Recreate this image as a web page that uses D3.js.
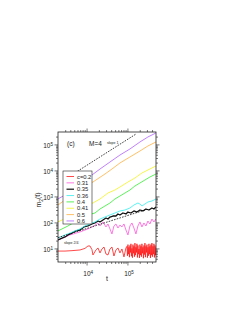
<!DOCTYPE html>
<html>
<head>
<meta charset="utf-8">
<script src="https://cdn.jsdelivr.net/npm/d3@7"></script>
<style>
  body { margin: 0; background: #fff; }
  svg { display: block; }
  text { font-family: "Liberation Sans", Arial, sans-serif; fill: #222; }
</style>
</head>
<body>
<div id="chart"></div>
<script>
// legend labels, top to bottom
const epsLabels = ['c=0.2', '0.31', '0.35', '0.36', '0.4', '0.41', '0.5', '0.6'];

// [t, m2]
const m020 = [[2000,7.9],[2970,7.9],[4400,8.2],[6900,8.7],[9140,10],[10820,12.4],[12110,12.4],[13550,9],[14340,5.6],
  [16980,8.7],[19000,10.4],[21300,6.7],[23800,9.5],[26700,11.3],[29850,6.1],[33400,5.6],[37350,9.5],[41800,11.3],
  [46750,5.1],[52350,8.7],[58600,10.4],[65600,6.7],[73400,9.5],[82200,4.7],[92000,10.4],
  [97300,12],[100100,5.2],[102900,14],[105900,6],[108900,11],[112000,4.6],[115100,13],[118500,7],[121900,15],
  [125300,5],[128900,10],[132600,4.4],[136400,14],[140300,6.5],[144200,12],[148400,4.8],[152600,16],[157000,5.5],
  [161400,11],[166100,7],[170800,15],[175700,4.5],[180700,13],[185900,6],[191200,9.5],[196600,4.3],[202300,14],
  [208000,5.5],[214000,12],[220100,4.8],[226400,15],[232800,6.5],[239500,11],[246300,4.2],[253400,13],[260600,5.8],
  [268000,16],[275700,4.6],[283700,12],[291700,7],[300000,14],[308600,4.4],[317000,11],[326400,5.2],[335800,15],
  [345400,6],[355000,12],[365300,4.3],[375700,14],[386500,5.5],[397500,16],[408800,4.8],[420500,12],[432600,6],
  [444800,15],[457600,4.5],[470600,13],[484100,5.5],[498000,11]];
const m031 = [[2000,21],[3930,33],[6900,43],[10820,56],[15180,73],[19000,95],[21300,73],[25200,104],[29850,67],
  [33400,87],[37350,56],[41800,36],[46750,73],[52350,87],[58600,61],[65600,79],[73400,67],[82200,87],[92000,51],
  [102900,33],[115100,73],[128900,95],[144200,61],[161400,36],[180700,73],[202300,104],[226400,67],[253400,95],
  [283700,73],[317000,113],[355000,87],[397500,135],[444800,104],[498000,135]];
const m035 = [[2000,21],[2506,25],[2966,27.5],[3510,33],[4400,39],[5510,47],[6900,51],[8650,67],[10820,73],
  [13550,87],[16060,95],[19000,113],[21300,104],[25200,124],[29850,148],[33400,135],[37350,161],[44200,176],
  [52350,176],[58600,211],[65600,193],[77600,230],[92000,211],[102900,251],[121900,230],[144200,275],[170800,251],
  [202300,300],[239500,275],[283700,328],[335800,300],[397500,358],[444800,328],[498000,391]];
const m036 = [[2000,25],[2966,33],[3930,39],[5210,47],[6900,56],[9140,73],[12110,87],[16060,104],[21300,135],
  [28200,161],[37350,193],[49500,230],[65600,275],[86900,300],[115100,358],[144200,467],[180700,557],[202300,510],
  [226400,427],[268000,510],[317000,609],[397500,666],[498000,795]];
const m040 = [[2000,47],[3510,73],[6170,124],[10820,193],[16060,230],[21300,328],[28200,427],[37350,557],
  [49500,795],[65600,1036],[86900,1350],[115100,1760],[152600,2514],[202300,3280],[268000,4270],[355000,5570],
  [498000,7270]];
const m041 = [[2000,104],[3140,148],[5210,251],[9140,427],[14340,557],[21300,795],[33400,1350],[49500,1760],
  [65600,2300],[102900,3580],[152600,5100],[226400,7950],[317000,10370],[498000,14800]];
const m050 = [[2000,467],[2966,730],[5210,1240],[9140,2500],[14340,3580],[28200,7270],[41800,11300],[65600,19300],
  [115100,32800],[202300,55700],[317000,86900],[498000,124000]];
const m060 = [[2000,800],[2966,1130],[3930,1610],[6900,3000],[13550,6650],[21300,11300],[37350,21000],
  [65600,39000],[115100,66600],[202300,124000],[317000,193000],[498000,275000]];

// guide lines: slope 1 and slope 2/4
const slopeOne = [[4000,6200],[161400,250000]];
const slopeHalf = [[2000,26],[300000,317]];

const xMajor = [1e4, 1e5];
const yMajor = [1e1, 1e2, 1e3, 1e4, 1e5];
const xMinor = [3e3,4e3,5e3,6e3,7e3,8e3,9e3,2e4,3e4,4e4,5e4,6e4,7e4,8e4,9e4,2e5,3e5,4e5];
const yMinor = [4,5,6,7,8,9,20,30,40,50,60,70,80,90,200,300,400,500,600,700,800,900,
  2e3,3e3,4e3,5e3,6e3,7e3,8e3,9e3,2e4,3e4,4e4,5e4,6e4,7e4,8e4,9e4,2e5];

const seriesList = [m020, m031, m035, m036, m040, m041, m050, m060];
const colors = ['#ff1a1a', '#ff55dd', '#111111', '#33eeee', '#33ee33', '#f2f222', '#ffb040', '#b060ff'];

const W = 240, H = 310;
const box = { left: 58, right: 156, top: 132, bottom: 262 };

const svg = d3.select('#chart').append('svg').attr('width', W).attr('height', H);

const x = d3.scaleLog().domain([2000, 5e5]).range([box.left, box.right]);
const y = d3.scaleLog().domain([3, 3e5]).range([box.bottom, box.top]);

svg.append('clipPath').attr('id', 'plot-clip')
  .append('rect')
  .attr('x', box.left).attr('y', box.top)
  .attr('width', box.right - box.left).attr('height', box.bottom - box.top);

const line = d3.line().x(d => x(d[0])).y(d => y(d[1]));
const plot = svg.append('g').attr('clip-path', 'url(#plot-clip)');

seriesList.forEach((s, i) => {
  plot.append('path')
    .attr('d', line(s))
    .attr('fill', 'none')
    .attr('stroke', colors[i])
    .attr('stroke-width', i === 2 ? 1.3 : 0.8)
    .attr('stroke-linejoin', 'round');
});

[slopeOne, slopeHalf].forEach(s => {
  plot.append('path')
    .attr('d', line(s))
    .attr('fill', 'none')
    .attr('stroke', '#111')
    .attr('stroke-width', 0.8)
    .attr('stroke-dasharray', '1.6,1.2');
});

// axes: ticks outward on all four sides
function addAxis(axisFn, scale, pos, major, minor, labels) {
  const gMinor = svg.append('g').attr('transform', pos)
    .call(axisFn(scale).tickValues(minor).tickSize(2).tickFormat(''));
  const gMajor = svg.append('g').attr('transform', pos)
    .call(axisFn(scale).tickValues(major).tickSize(3.5).tickPadding(1.5)
      .tickFormat(labels ? (d => d) : ''));
  [gMinor, gMajor].forEach(g => {
    g.select('.domain').remove();
    g.selectAll('.tick line').attr('stroke', '#222').attr('stroke-width', 0.6);
  });
  return gMajor;
}

const bottomAxis = addAxis(d3.axisBottom, x, `translate(0,${box.bottom})`, xMajor, xMinor, true);
addAxis(d3.axisTop, x, `translate(0,${box.top})`, xMajor, xMinor, false);
const leftAxis = addAxis(d3.axisLeft, y, `translate(${box.left},0)`, yMajor, yMinor, true);
addAxis(d3.axisRight, y, `translate(${box.right},0)`, yMajor, yMinor, false);

function powerLabel(sel) {
  sel.each(function(d) {
    const t = d3.select(this);
    t.text('').attr('font-size', '6.5px').attr('fill', '#222');
    t.append('tspan').text('10');
    t.append('tspan').attr('dy', '-0.45em').attr('font-size', '4.5px').text(Math.round(Math.log10(d)));
  });
}
bottomAxis.selectAll('.tick text').call(powerLabel)
  .attr('text-anchor', 'start').attr('x', -3.8).attr('y', 14).attr('dy', 0);
leftAxis.selectAll('.tick text').call(powerLabel).attr('dy', '0.45em');

svg.append('rect')
  .attr('x', box.left).attr('y', box.top)
  .attr('width', box.right - box.left).attr('height', box.bottom - box.top)
  .attr('fill', 'none').attr('stroke', '#222').attr('stroke-width', 0.8);

// axis titles
svg.append('text')
  .attr('x', (box.left + box.right) / 2).attr('y', 281)
  .attr('text-anchor', 'middle').attr('font-size', '7px').text('t');

const yTitle = svg.append('text')
  .attr('transform', 'translate(41,200) rotate(-90)')
  .attr('text-anchor', 'middle').attr('font-size', '7px');
yTitle.append('tspan').text('m');
yTitle.append('tspan').attr('dy', '0.3em').attr('font-size', '5px').text('2');
yTitle.append('tspan').attr('dy', '-0.3em').text('(t)');

// annotations
svg.append('text').attr('x', 67).attr('y', 145.5).attr('font-size', '6.5px').text('(c)');
svg.append('text').attr('x', 89).attr('y', 145.5).attr('font-size', '6.5px').text('M=4');
svg.append('text').attr('x', 107).attr('y', 143.5).attr('font-size', '3.6px').text('slope 1');
svg.append('text').attr('x', 64).attr('y', 243.5).attr('font-size', '3.6px').text('slope 2/4');

// legend
const legend = svg.append('g');
legend.append('rect')
  .attr('x', 63).attr('y', 171).attr('width', 29).attr('height', 53)
  .attr('fill', '#fff').attr('stroke', '#222').attr('stroke-width', 0.6);
epsLabels.forEach((lab, i) => {
  const ly = 176.5 + i * 6.35;
  legend.append('line')
    .attr('x1', 66.5).attr('x2', 74).attr('y1', ly).attr('y2', ly)
    .attr('stroke', colors[i]).attr('stroke-width', i === 2 ? 1.2 : 0.8);
  legend.append('text')
    .attr('x', 77).attr('y', ly).attr('dy', '0.35em')
    .attr('font-size', '5.8px').text(lab);
});
</script>
</body>
</html>
